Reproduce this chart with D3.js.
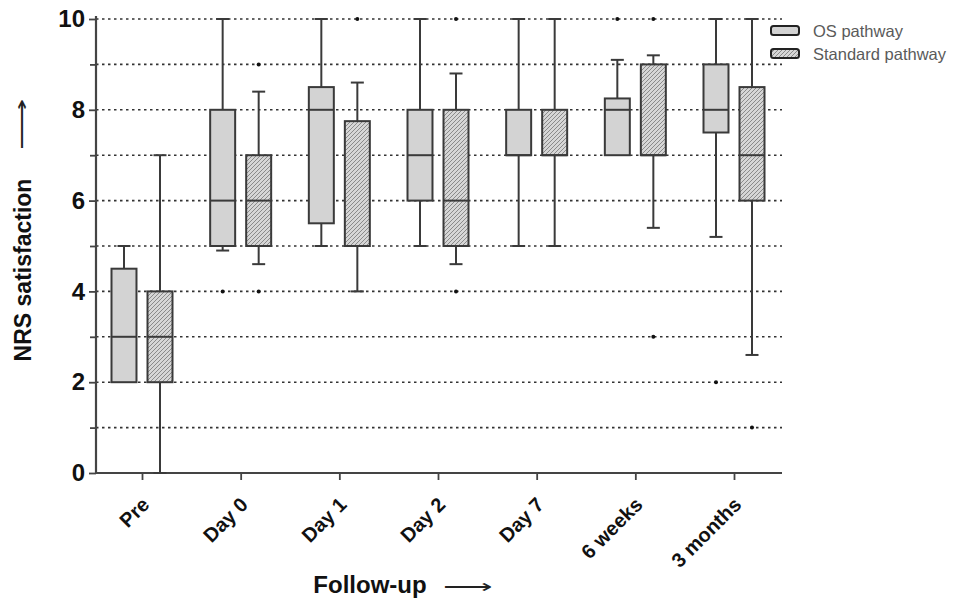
<!DOCTYPE html>
<html>
<head>
<meta charset="utf-8">
<script src="https://cdn.jsdelivr.net/npm/d3@7"></script>
<style>
  html, body { margin: 0; padding: 0; background: #fff; }
  svg { display: block; }
  text { font-family: "Liberation Sans", Arial, sans-serif; }
</style>
</head>
<body>
<svg id="chart" width="959" height="599"></svg>
<script>
// ---- Data ----
const categories = ["Pre", "Day 0", "Day 1", "Day 2", "Day 7", "6 weeks", "3 months"];
const seriesNames = ["OS pathway", "Standard pathway"];

// OS pathway
const osWhiskerLow  = [2,   4.9, 5,    5, 5, 7,    5.2];
const osQ1          = [2,   5,   5.5,  6, 7, 7,    7.5];
const osMedian      = [3,   6,   8,    7, 7, 8,    8];
const osQ3          = [4.5, 8,   8.5,  8, 8, 8.25, 9];
const osWhiskerHigh = [5,   10,  10,   10, 10, 9.1, 10];
const osOutliers    = [[], [4], [], [], [], [10], [2]];

// Standard pathway
const stdWhiskerLow  = [0, 4.6, 4,    4.6, 5, 5.4, 2.6];
const stdQ1          = [2, 5,   5,    5,   7, 7,   6];
const stdMedian      = [3, 6,   5,    6,   7, 7,   7];
const stdQ3          = [4, 7,   7.75, 8,   8, 9,   8.5];
const stdWhiskerHigh = [7, 8.4, 8.6,  8.8, 10, 9.2, 10];
const stdOutliers    = [[], [9, 4], [10], [10, 4], [], [10, 3], [1]];

const yMajorTicks = [0, 2, 4, 6, 8, 10];
const yMinorTicks = [1, 3, 5, 7, 9];
const yGridValues = [1, 2, 3, 4, 5, 6, 7, 8, 9, 10];

// ---- Build ----
const svg = d3.select("#chart");
const x0 = 96, x1 = 782, yTop = 19, yBot = 473;

const y = d3.scaleLinear().domain([0, 10]).range([yBot, yTop]);
const x = d3.scalePoint().domain(categories).range([142, 734]);
const sub = d3.scaleBand().domain(seriesNames).range([-30.5, 30.5]).paddingInner(0.306).paddingOuter(0);

const defs = svg.append("defs");
const pat = defs.append("pattern")
  .attr("id", "hatch").attr("patternUnits", "userSpaceOnUse")
  .attr("width", 4).attr("height", 4);
pat.append("rect").attr("width", 4).attr("height", 4).attr("fill", "#d6d6d6");
pat.append("path").attr("d", "M-1,1 l2,-2 M0,4 l4,-4 M3,5 l2,-2")
  .attr("stroke", "#8a8a8a").attr("stroke-width", 1);

const fills = ["#d3d3d3", "url(#hatch)"];

// grid
svg.append("g").selectAll("line").data(yGridValues).join("line")
  .attr("x1", x0).attr("x2", x1)
  .attr("y1", d => y(d)).attr("y2", d => y(d))
  .attr("stroke", "#333").attr("stroke-width", 1.6)
  .attr("stroke-dasharray", "2.5,3.5");

// y axis
const yAxisG = svg.append("g").attr("transform", `translate(${x0},0)`)
  .call(d3.axisLeft(y).tickValues(yMajorTicks).tickSize(7).tickPadding(4).tickFormat(d3.format("d")));
yAxisG.select(".domain").remove();
yAxisG.selectAll(".tick line").attr("stroke", "#444").attr("stroke-width", 1.8);
yAxisG.selectAll(".tick text").attr("font-size", 24).attr("font-weight", "bold").attr("fill", "#111")
  .attr("font-family", "Liberation Sans, Arial, sans-serif");
const yMinorG = svg.append("g").attr("transform", `translate(${x0},0)`)
  .call(d3.axisLeft(y).tickValues(yMinorTicks).tickSize(6).tickFormat(""));
yMinorG.select(".domain").remove();
yMinorG.selectAll(".tick line").attr("stroke", "#444").attr("stroke-width", 1.8);
svg.append("line").attr("x1", x0).attr("x2", x0).attr("y1", yTop - 3).attr("y2", yBot + 1)
  .attr("stroke", "#444").attr("stroke-width", 2.2);

// x axis
const xAxisG = svg.append("g").attr("transform", `translate(0,${yBot})`)
  .call(d3.axisBottom(x).tickSize(7).tickSizeOuter(0));
xAxisG.select(".domain").remove();
xAxisG.selectAll(".tick line").attr("stroke", "#444").attr("stroke-width", 1.8);
xAxisG.selectAll(".tick text")
  .attr("font-size", 20).attr("font-weight", "bold").attr("fill", "#111")
  .attr("font-family", "Liberation Sans, Arial, sans-serif")
  .attr("text-anchor", "end").attr("dy", null).attr("y", 0)
  .attr("transform", "translate(8,33) rotate(-45)");
svg.append("line").attr("x1", x0 - 1).attr("x2", x1).attr("y1", yBot).attr("y2", yBot)
  .attr("stroke", "#444").attr("stroke-width", 2.2);

// boxes
const series = [
  { name: seriesNames[0], lo: osWhiskerLow, q1: osQ1, med: osMedian, q3: osQ3, hi: osWhiskerHigh, out: osOutliers, fill: fills[0] },
  { name: seriesNames[1], lo: stdWhiskerLow, q1: stdQ1, med: stdMedian, q3: stdQ3, hi: stdWhiskerHigh, out: stdOutliers, fill: fills[1] }
];
const bw = sub.bandwidth();
const capW = 13;
const stroke = "#3a3a3a";

series.forEach(s => {
  const g = svg.append("g");
  categories.forEach((c, i) => {
    const cx = x(c) + sub(s.name) + bw / 2;
    g.append("line").attr("x1", cx).attr("x2", cx).attr("y1", y(s.hi[i])).attr("y2", y(s.q3[i]))
      .attr("stroke", stroke).attr("stroke-width", 2);
    g.append("line").attr("x1", cx).attr("x2", cx).attr("y1", y(s.q1[i])).attr("y2", y(s.lo[i]))
      .attr("stroke", stroke).attr("stroke-width", 2);
    if (s.hi[i] > s.q3[i])
      g.append("line").attr("x1", cx - capW / 2).attr("x2", cx + capW / 2).attr("y1", y(s.hi[i])).attr("y2", y(s.hi[i]))
        .attr("stroke", stroke).attr("stroke-width", 2);
    if (s.lo[i] < s.q1[i])
      g.append("line").attr("x1", cx - capW / 2).attr("x2", cx + capW / 2).attr("y1", y(s.lo[i])).attr("y2", y(s.lo[i]))
        .attr("stroke", stroke).attr("stroke-width", 2);
    g.append("rect").attr("x", cx - bw / 2).attr("width", bw)
      .attr("y", y(s.q3[i])).attr("height", y(s.q1[i]) - y(s.q3[i]))
      .attr("fill", s.fill).attr("stroke", stroke).attr("stroke-width", 2);
    g.append("line").attr("x1", cx - bw / 2).attr("x2", cx + bw / 2).attr("y1", y(s.med[i])).attr("y2", y(s.med[i]))
      .attr("stroke", stroke).attr("stroke-width", 2);
    g.selectAll(null).data(s.out[i]).join("circle")
      .attr("cx", cx).attr("cy", d => y(d)).attr("r", 2).attr("fill", "#111");
  });
});

// legend
const leg = svg.append("g");
series.forEach((s, i) => {
  const ly = 26 + i * 23;
  leg.append("rect").attr("x", 771).attr("y", ly).attr("width", 28).attr("height", 9)
    .attr("rx", 2.5).attr("fill", s.fill).attr("stroke", "#222").attr("stroke-width", 2);
  leg.append("text").attr("x", 813).attr("y", ly + 5).attr("dominant-baseline", "central")
    .attr("font-size", 16.5).attr("fill", "#5a5a5a").text(s.name);
});

// axis titles
svg.append("text").attr("transform", "translate(31,270) rotate(-90)")
  .attr("text-anchor", "middle").attr("font-size", 23).attr("font-weight", "bold").attr("fill", "#111")
  .text("NRS satisfaction");
svg.append("text").attr("transform", "translate(22,124) rotate(-90)")
  .attr("text-anchor", "middle").attr("dominant-baseline", "central")
  .attr("font-size", 18).attr("fill", "#222")
  .attr("textLength", 52).attr("lengthAdjust", "spacingAndGlyphs")
  .attr("font-family", "DejaVu Sans, sans-serif")
  .text("\u27F6");

svg.append("text").attr("x", 370).attr("y", 593)
  .attr("text-anchor", "middle").attr("font-size", 24).attr("font-weight", "bold").attr("fill", "#111")
  .text("Follow-up");
svg.append("text").attr("x", 468).attr("y", 587)
  .attr("text-anchor", "middle").attr("dominant-baseline", "central")
  .attr("font-size", 18).attr("fill", "#222")
  .attr("textLength", 50).attr("lengthAdjust", "spacingAndGlyphs")
  .attr("font-family", "DejaVu Sans, sans-serif")
  .text("\u27F6");
</script>
</body>
</html>
